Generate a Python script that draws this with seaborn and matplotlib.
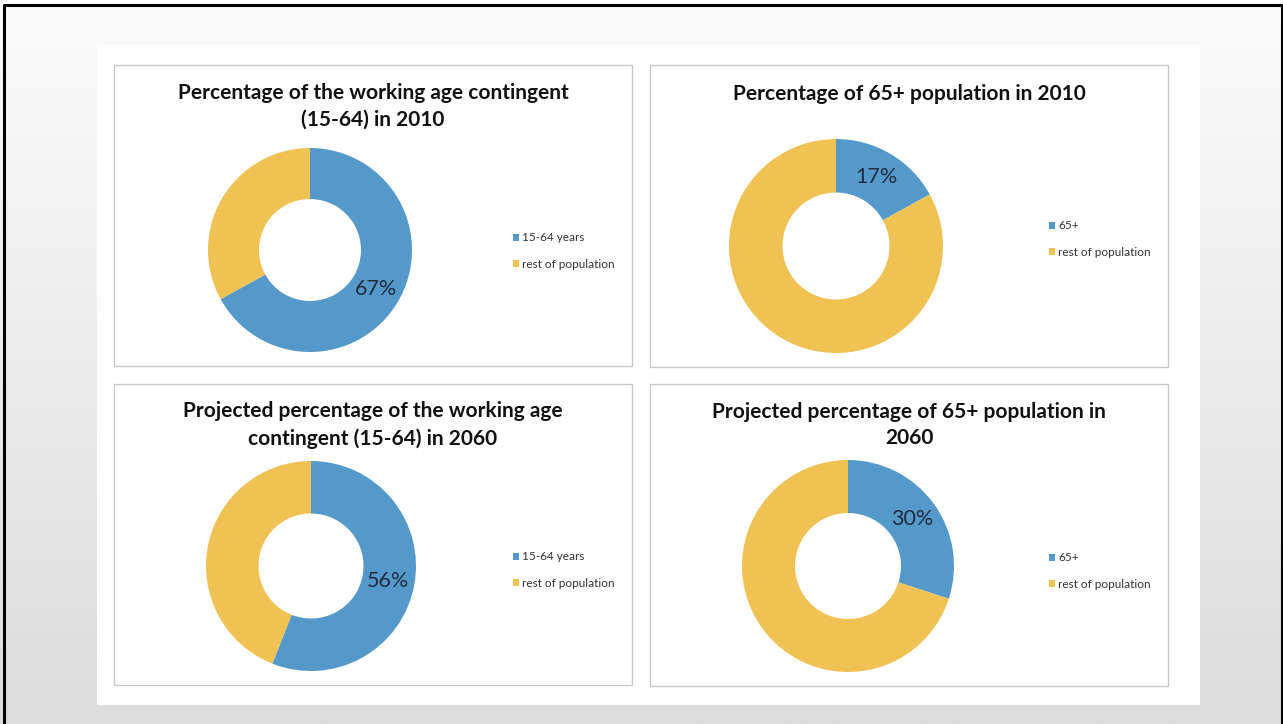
import numpy as np
import matplotlib
matplotlib.use('Agg')
import matplotlib.pyplot as plt
from matplotlib.patches import Rectangle
from matplotlib.lines import Line2D
from matplotlib.colors import LinearSegmentedColormap
import seaborn as sns

sns.set_theme(style='white')
plt.rcParams['font.family'] = ['Lato', 'DejaVu Sans']

# data
titles = ['Percentage of the working age contingent\n(15-64) in 2010',
          'Percentage of 65+ population in 2010',
          'Projected percentage of the working age\ncontingent (15-64) in 2060',
          'Projected percentage of 65+ population in\n2060']
group_labels = ['15-64 years', '65+', '15-64 years', '65+']
group_share = [67, 17, 56, 30]
rest_share = [33, 83, 44, 70]
rest_label = 'rest of population'

colors = ['#5499c9', '#f0c254']

# layout in pixels (x0, y0, x1, y1) from top-left
W, H = 1283, 724
panels = [(114, 65, 632, 366), (650, 65, 1168, 367),
          (114, 384, 632, 685), (650, 384, 1168, 686)]
donuts = [(310, 250, 102), (836, 246, 107), (311, 566, 105), (848, 566, 106)]
legend_pos = [(513, 251), (1049, 239), (513, 570), (1049, 571)]
title_pos = [(373, 106.5), (909, 94), (373, 425), (909, 425)]

fig = plt.figure(figsize=(W / 100, H / 100), dpi=100)

def fx(x):
    return x / W

def fy(y):
    return 1 - y / H

# slide background
bg = fig.add_axes([0, 0, 1, 1], zorder=-10)
grad = np.linspace(0, 1, 256).reshape(-1, 1)
bg.imshow(grad, aspect='auto', extent=[0, 1, 0, 1],
          cmap=LinearSegmentedColormap.from_list('bg', ['#fcfcfc', '#dcdcdc']))
bg.set_xlim(0, 1)
bg.set_ylim(0, 1)
bg.axis('off')

fig.patches.append(Rectangle((fx(97), fy(705)), fx(1200) - fx(97), fy(45) - fy(705),
                             transform=fig.transFigure, facecolor='white',
                             edgecolor='none', zorder=-5))
for (x0, y0, x1, y1) in panels:
    fig.patches.append(Rectangle((fx(x0), fy(y1)), fx(x1) - fx(x0), fy(y0) - fy(y1),
                                 transform=fig.transFigure, facecolor='white',
                                 edgecolor='#c9c9c9', linewidth=1.0, zorder=-4))

fig.add_artist(Line2D([fx(4), fx(4)], [0, fy(5)], color='black', lw=2.2, transform=fig.transFigure))
fig.add_artist(Line2D([fx(4), fx(1282)], [fy(5), fy(5)], color='black', lw=2.2, transform=fig.transFigure))
fig.add_artist(Line2D([fx(1282), fx(1282)], [0, fy(5)], color='black', lw=2.2, transform=fig.transFigure))

for i in range(4):
    cx, cy, r = donuts[i]
    ax = fig.add_axes([fx(cx - r), fy(cy + r), 2 * r / W, 2 * r / H])
    wedges, texts, autotexts = ax.pie(
        [group_share[i], rest_share[i]], colors=colors, startangle=90,
        counterclock=False, radius=1.0, autopct='%1.0f%%', pctdistance=0.75,
        wedgeprops=dict(width=0.5, edgecolor='none'),
        textprops=dict(fontsize=15.5, color='#1f2d44'))
    autotexts[1].set_text('')
    ax.set_xlim(-1, 1)
    ax.set_ylim(-1, 1)
    ax.axis('off')

    lx, ly = legend_pos[i]
    ax.legend(wedges, [group_labels[i], rest_label], loc='center left',
              bbox_to_anchor=(fx(lx), fy(ly)), bbox_transform=fig.transFigure,
              frameon=False, fontsize=8.5, handlelength=0.55, handleheight=0.55,
              handletextpad=0.25, labelspacing=1.3, borderpad=0, borderaxespad=0,
              labelcolor='#333333')

    tx, ty = title_pos[i]
    fig.text(fx(tx), fy(ty), titles[i], ha='center', va='center', fontsize=15,
             fontweight='bold', color='#111111', linespacing=1.42)

fig.savefig('out.png', dpi=100)
